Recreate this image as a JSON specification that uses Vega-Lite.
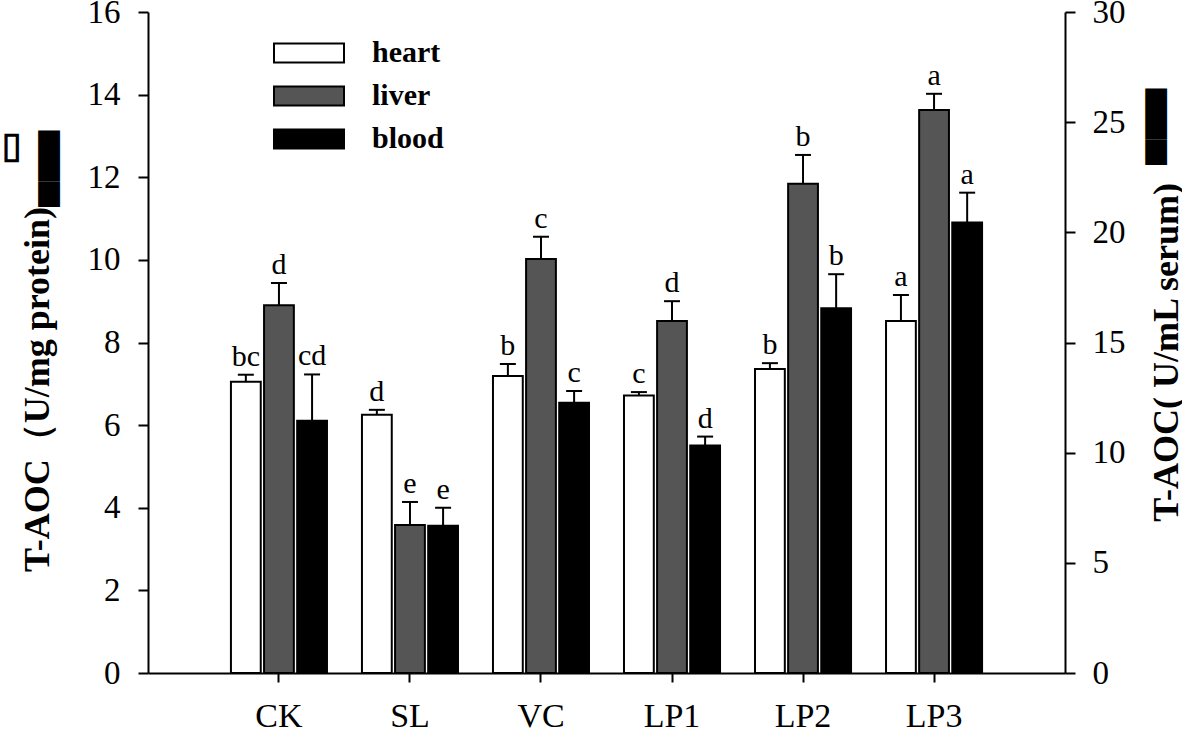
{
  "$schema": "https://vega.github.io/schema/vega-lite/v6.json",
  "width": 917,
  "height": 661,
  "autosize": {"type": "none"},
  "padding": {"left": 148, "top": 12, "right": 117, "bottom": 59},
  "background": "white",
  "config": {
    "view": {"stroke": null},
    "font": "Liberation Serif",
    "axis": {
      "domainColor": "black", "domainWidth": 2, "tickColor": "black", "tickWidth": 2, "tickSize": 10,
      "labelFont": "Liberation Serif", "labelColor": "black", "labelFontSize": 33,
      "titleFont": "Liberation Serif", "titleFontWeight": "bold", "titleFontSize": 36, "titleColor": "black",
      "grid": false
    },
    "legend": {"padding": 0}
  },
  "data": {
    "values": [
      {"group": "CK", "tissue": "heart", "value": 7.05, "upper": 7.22, "label": "bc"},
      {"group": "CK", "tissue": "liver", "value": 8.9, "upper": 9.44, "label": "d"},
      {"group": "CK", "tissue": "blood", "value": 11.45, "upper": 13.55, "label": "cd"},
      {"group": "SL", "tissue": "heart", "value": 6.25, "upper": 6.37, "label": "d"},
      {"group": "SL", "tissue": "liver", "value": 3.58, "upper": 4.14, "label": "e"},
      {"group": "SL", "tissue": "blood", "value": 6.68, "upper": 7.5, "label": "e"},
      {"group": "VC", "tissue": "heart", "value": 7.19, "upper": 7.48, "label": "b"},
      {"group": "VC", "tissue": "liver", "value": 10.02, "upper": 10.56, "label": "c"},
      {"group": "VC", "tissue": "blood", "value": 12.27, "upper": 12.8, "label": "c"},
      {"group": "LP1", "tissue": "heart", "value": 6.72, "upper": 6.8, "label": "c"},
      {"group": "LP1", "tissue": "liver", "value": 8.52, "upper": 9.0, "label": "d"},
      {"group": "LP1", "tissue": "blood", "value": 10.32, "upper": 10.73, "label": "d"},
      {"group": "LP2", "tissue": "heart", "value": 7.36, "upper": 7.5, "label": "b"},
      {"group": "LP2", "tissue": "liver", "value": 11.84, "upper": 12.54, "label": "b"},
      {"group": "LP2", "tissue": "blood", "value": 16.55, "upper": 18.1, "label": "b"},
      {"group": "LP3", "tissue": "heart", "value": 8.52, "upper": 9.15, "label": "a"},
      {"group": "LP3", "tissue": "liver", "value": 13.63, "upper": 14.02, "label": "a"},
      {"group": "LP3", "tissue": "blood", "value": 20.45, "upper": 21.8, "label": "a"}
    ]
  },
  "encoding": {
    "x": {
      "field": "group", "type": "nominal",
      "sort": ["CK", "SL", "VC", "LP1", "LP2", "LP3"],
      "scale": {"paddingInner": 0.267, "paddingOuter": 0.633},
      "axis": {"title": null, "labelAngle": 0, "labelFontSize": 34, "labelPadding": 17, "tickSize": 9, "labelFont": "Liberation Serif"}
    },
    "xOffset": {
      "field": "tissue", "type": "nominal",
      "scale": {"domain": ["heart", "liver", "blood"], "paddingInner": 0.1}
    }
  },
  "layer": [
    {
      "transform": [{"filter": "datum.tissue !== 'blood'"}],
      "encoding": {
        "y": {
          "field": "value", "type": "quantitative",
          "scale": {"domain": [0, 16], "nice": false},
          "axis": {
            "orient": "left",
            "values": [0, 2, 4, 6, 8, 10, 12, 14, 16],
            "labelPadding": 18,
            "title": ["▭", "T-AOC（U/mg protein)▄▄▄"],
            "titleFont": "Liberation Serif",
            "titleFontWeight": "bold",
            "titleAngle": 270,
            "titleAlign": "right",
            "titleBaseline": "alphabetic",
            "titleLineHeight": 28,
            "titleX": -128,
            "titleY": 118
          }
        }
      },
      "layer": [
        {
          "mark": {"type": "bar", "stroke": "black", "strokeWidth": 2},
          "encoding": {
            "fill": {
              "field": "tissue", "type": "nominal",
              "scale": {"domain": ["heart", "liver", "blood"], "range": ["white", "#555555", "black"]},
              "legend": {
                "orient": "none", "legendX": 135, "legendY": 15, "title": null,
                "symbolType": "M-1.4,-0.38H1.4V0.38H-1.4Z", "symbolSize": 2500,
                "symbolStrokeColor": "black", "symbolStrokeWidth": 2,
                "labelFont": "Liberation Serif", "labelFontSize": 30, "labelFontWeight": "bold",
                "labelColor": "black", "labelOffset": 37, "rowPadding": 2
              }
            }
          }
        },
        {
          "mark": {"type": "rule", "strokeWidth": 2, "color": "black"},
          "encoding": {"y2": {"field": "upper"}}
        },
        {
          "mark": {"type": "tick", "color": "black", "size": 16, "thickness": 2, "opacity": 1},
          "encoding": {"y": {"field": "upper", "type": "quantitative"}}
        },
        {
          "mark": {"type": "text", "fontSize": 30, "font": "Liberation Serif", "color": "black", "baseline": "alphabetic", "dy": -9},
          "encoding": {"y": {"field": "upper", "type": "quantitative"}, "text": {"field": "label"}}
        }
      ]
    },
    {
      "transform": [{"filter": "datum.tissue === 'blood'"}],
      "encoding": {
        "y": {
          "field": "value", "type": "quantitative",
          "scale": {"domain": [0, 30], "nice": false},
          "axis": {
            "orient": "right",
            "values": [0, 5, 10, 15, 20, 25, 30],
            "labelPadding": 17,
            "title": "T-AOC( U/mL serum)\u00a0\u00a0▀▀▀",
            "titleFont": "Liberation Serif",
            "titleFontWeight": "bold",
            "titleAngle": 270,
            "titleAlign": "right",
            "titleBaseline": "alphabetic",
            "titleX": 112,
            "titleY": 76
          }
        }
      },
      "layer": [
        {
          "mark": {"type": "bar", "stroke": "black", "strokeWidth": 2},
          "encoding": {
            "fill": {"field": "tissue", "type": "nominal"}
          }
        },
        {
          "mark": {"type": "rule", "strokeWidth": 2, "color": "black"},
          "encoding": {"y2": {"field": "upper"}}
        },
        {
          "mark": {"type": "tick", "color": "black", "size": 16, "thickness": 2, "opacity": 1},
          "encoding": {"y": {"field": "upper", "type": "quantitative"}}
        },
        {
          "mark": {"type": "text", "fontSize": 30, "font": "Liberation Serif", "color": "black", "baseline": "alphabetic", "dy": -9},
          "encoding": {"y": {"field": "upper", "type": "quantitative"}, "text": {"field": "label"}}
        }
      ]
    }
  ],
  "resolve": {"scale": {"y": "independent"}}
}
